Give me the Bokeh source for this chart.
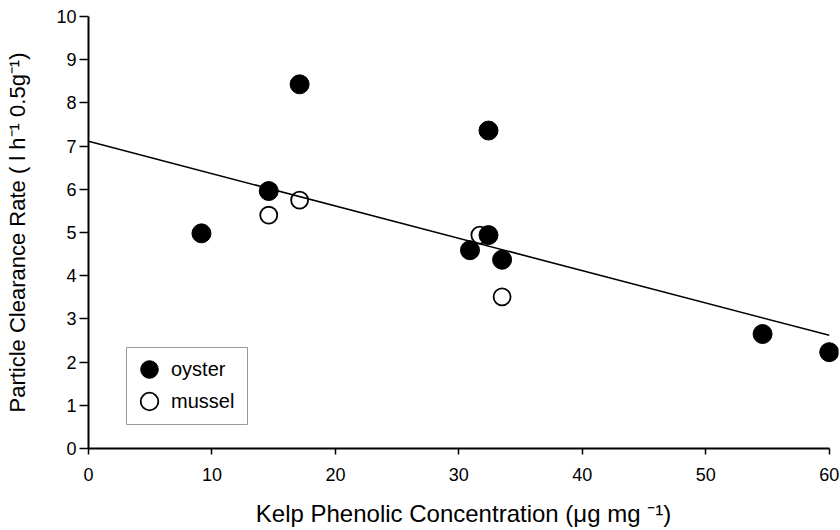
from bokeh.plotting import figure
from bokeh.models import Range1d, FixedTicker, Legend, LegendItem, BoxAnnotation
from bokeh.embed import file_html
from bokeh.resources import INLINE

# Data
oyster_x = [9.15, 14.6, 17.1, 30.9, 32.4, 32.4, 33.5, 54.6, 60.0]
oyster_y = [4.98, 5.96, 8.43, 4.59, 4.94, 7.36, 4.37, 2.65, 2.23]
mussel_x = [14.6, 17.1, 31.7, 33.5]
mussel_y = [5.40, 5.75, 4.94, 3.51]

# Regression line (end points)
fit_x = [0, 60]
fit_y = [7.11, 2.62]

x_ticks = [0, 10, 20, 30, 40, 50, 60]
y_ticks = [0, 1, 2, 3, 4, 5, 6, 7, 8, 9, 10]

FONT = "Liberation Sans"

p = figure(width=840, height=530, output_backend="svg", toolbar_location=None,
           x_range=Range1d(0, 60.75), y_range=Range1d(0, 10),
           min_border_left=88, min_border_right=2, min_border_top=16,
           min_border_bottom=82)
p.outline_line_color = None
p.grid.visible = False
p.background_fill_color = "white"
p.border_fill_color = "white"

p.line(fit_x, fit_y, line_color="black", line_width=1.6)
r_mussel = p.scatter(mussel_x, mussel_y, marker="circle", size=17,
                     fill_color="white", fill_alpha=0.0,
                     line_color="black", line_width=1.8)
r_oyster = p.scatter(oyster_x, oyster_y, marker="circle", size=19,
                     fill_color="black", line_color="black")

for ax in (p.xaxis[0], p.yaxis[0]):
    ax.axis_line_width = 2
    ax.axis_line_color = "black"
    ax.major_tick_line_width = 1.5
    ax.major_tick_line_color = "black"
    ax.minor_tick_line_color = None
    ax.major_tick_in = 0
    ax.major_label_text_font = FONT
    ax.major_label_text_font_size = "18px"
    ax.major_label_text_color = "black"
    ax.axis_label_text_font = FONT
    ax.axis_label_text_font_style = "normal"
    ax.axis_label_text_color = "black"

p.xaxis.ticker = FixedTicker(ticks=x_ticks)
p.xaxis.bounds = (0, 60)
p.xaxis.major_tick_out = 6
p.xaxis.major_label_standoff = 13
p.xaxis.axis_label = "Kelp Phenolic Concentration (\u03bcg mg \u207b\u00b9)"
p.xaxis.axis_label_text_font_size = "24px"
p.xaxis.axis_label_standoff = 16

p.yaxis.ticker = FixedTicker(ticks=y_ticks)
p.yaxis.major_tick_out = 9
p.yaxis.major_label_standoff = 3
p.yaxis.axis_label = "Particle Clearance Rate ( l h\u207b\u00b9 0.5g\u207b\u00b9)"
p.yaxis.axis_label_text_font_size = "22px"
p.yaxis.axis_label_standoff = 23

# legend frame (screen units, relative to the plot frame)
legend_box = BoxAnnotation(left=38, right=159, bottom=24, top=101,
                           left_units="screen", right_units="screen",
                           bottom_units="screen", top_units="screen",
                           fill_color="white", fill_alpha=1.0,
                           line_color="#999999", line_width=1,
                           line_alpha=1.0)
p.add_layout(legend_box)

legend_style = dict(glyph_width=44, glyph_height=46, label_height=46,
                    label_width=60, spacing=0, padding=0, label_standoff=0,
                    margin=0, border_line_color=None,
                    background_fill_alpha=0.0,
                    label_text_font=FONT, label_text_font_size="20px",
                    label_text_color="black")
legend_o = Legend(items=[LegendItem(label="oyster", renderers=[r_oyster])],
                  location=(39, 56), **legend_style)
legend_m = Legend(items=[LegendItem(label="mussel", renderers=[r_mussel])],
                  location=(39, 24), **legend_style)
p.add_layout(legend_o)
p.add_layout(legend_m)

open("out.html", "w").write(file_html(p, INLINE))
